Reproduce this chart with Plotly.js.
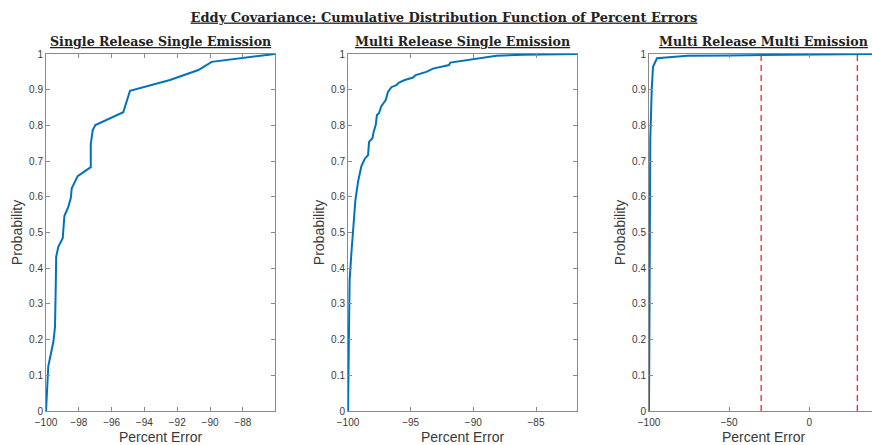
<!DOCTYPE html>
<html>
<head>
<meta charset="utf-8">
<script src="https://cdn.plot.ly/plotly-3.0.1.min.js"></script>
<style>
  html, body { margin: 0; padding: 0; overflow: hidden; background: #fff; }
  #chart { width: 880px; height: 445px; }
</style>
</head>
<body>
<div id="chart"></div>
<script>
// Empirical CDFs of percent error, one per release/emission scenario
const srseError = [-100, -99.86, -99.55, -99.45, -99.40, -99.38, -99.25, -98.98, -98.88, -98.64, -98.49, -98.43, -98.07, -97.27, -97.27, -97.15, -96.99, -95.29, -94.88, -92.44, -90.71, -89.9, -86.04];
const srseProb  = [0, 0.126, 0.194, 0.236, 0.367, 0.432, 0.46, 0.484, 0.546, 0.572, 0.596, 0.624, 0.658, 0.683, 0.748, 0.787, 0.801, 0.837, 0.897, 0.927, 0.955, 0.978, 1.0];

const mrseError = [-100, -99.87, -99.73, -99.55, -99.41, -99.2, -98.93, -98.67, -98.4, -98.32, -98.05, -97.95, -97.79, -97.69, -97.53, -97.34, -96.99, -96.81, -96.54, -96.14, -95.93, -95.47, -94.81, -94.6, -93.75, -93.22, -91.94, -91.83, -90.02, -88.16, -86.03, -81.73];
const mrseProb  = [0, 0.367, 0.442, 0.518, 0.591, 0.642, 0.686, 0.706, 0.717, 0.754, 0.764, 0.782, 0.801, 0.829, 0.834, 0.854, 0.871, 0.894, 0.907, 0.913, 0.92, 0.927, 0.934, 0.941, 0.95, 0.959, 0.969, 0.976, 0.986, 0.995, 0.998, 1.0];

const mrmeError = [-100, -99.8, -99.6, -99.2, -98.3, -97.5, -95, -85, -76, -50, -30, 0, 30, 42.9];
const mrmeProb  = [0, 0.45, 0.68, 0.76, 0.9, 0.964, 0.988, 0.992, 0.995, 0.996, 0.997, 0.998, 0.999, 1.0];

// Acceptance band limits (percent error)
const errorLimits = [-30, 30];

const panelTitles = ['Single Release Single Emission', 'Multi Release Single Emission', 'Multi Release Multi Emission'];
const xTicks = [
  [-100, -98, -96, -94, -92, -90, -88],
  [-100, -95, -90, -85],
  [-100, -50, 0, 50]
];
const yTicks = [0, 0.1, 0.2, 0.3, 0.4, 0.5, 0.6, 0.7, 0.8, 0.9, 1];

const W = 880, H = 445;
const BLUE = '#0072BD';
const AXIS = '#8a8a8a';
const TEXT = '#3a3a3a';
const SANS = 'Liberation Sans, Arial, sans-serif';

const traces = [
  { x: srseError, y: srseProb, xaxis: 'x', yaxis: 'y' },
  { x: mrseError, y: mrseProb, xaxis: 'x2', yaxis: 'y2' },
  { x: mrmeError, y: mrmeProb, xaxis: 'x3', yaxis: 'y3' }
].map(t => Object.assign(t, { type: 'scatter', mode: 'lines', line: { color: BLUE, width: 2 }, hoverinfo: 'x+y' }));

errorLimits.forEach(v => {
  traces.push({
    type: 'scatter', mode: 'lines', x: [v, v], y: [0, 1], xaxis: 'x3', yaxis: 'y3',
    line: { color: '#ff1f1f', width: 1.3, dash: '6px,4px' }
  });
});

const pxX = [[46, 275], [348, 577], [649, 878]];
const yDom = [34 / H, 391 / H];
const xRanges = [[-100, -86.04], [-100, -81.73], [-100, 42.9]];

function xAxis(i) {
  return {
    domain: [pxX[i][0] / W, pxX[i][1] / W],
    range: xRanges[i],
    tickvals: xTicks[i],
    ticks: 'inside', ticklen: 4, tickcolor: AXIS, tickwidth: 1,
    showline: true, linecolor: AXIS, linewidth: 1, mirror: 'ticks',
    showgrid: false, zeroline: false,
    tickfont: { family: SANS, size: 10, color: TEXT },
    ticklabelstandoff: 2,
    anchor: i === 0 ? 'y' : 'y' + (i + 1),
    title: { text: 'Percent Error', font: { family: SANS, size: 14, color: TEXT }, standoff: 8 },
    automargin: false
  };
}
function yAxis(i) {
  return {
    domain: yDom,
    range: [0, 1],
    tickvals: yTicks,
    ticks: 'inside', ticklen: 4, tickcolor: AXIS, tickwidth: 1,
    showline: true, linecolor: AXIS, linewidth: 1, mirror: 'ticks',
    showgrid: false, zeroline: false,
    tickfont: { family: SANS, size: 10, color: TEXT },
    anchor: i === 0 ? 'x' : 'x' + (i + 1),
    title: { text: 'Probability', font: { family: SANS, size: 14, color: TEXT }, standoff: 3 },
    automargin: false
  };
}

const serifFont = size => ({ family: 'DejaVu Serif, serif', size: size, color: '#222', weight: 'bold', lineposition: 'under' });

const layout = {
  width: W, height: H,
  margin: { l: 0, r: 0, t: 0, b: 0 },
  paper_bgcolor: '#fff', plot_bgcolor: '#fff',
  showlegend: false,
  title: {
    text: 'Eddy Covariance: Cumulative Distribution Function of Percent Errors',
    x: 444 / W, xanchor: 'center', xref: 'paper',
    y: 1 - 17 / H, yanchor: 'middle', yref: 'paper',
    font: serifFont(13)
  },
  annotations: panelTitles.map((t, i) => ({
    text: t, showarrow: false,
    xref: 'paper', yref: 'paper',
    x: (pxX[i][0] + pxX[i][1]) / 2 / W, xanchor: 'center',
    y: 1 - 42 / H, yanchor: 'middle',
    font: serifFont(12.6)
  })),
  xaxis: xAxis(0), yaxis: yAxis(0),
  xaxis2: xAxis(1), yaxis2: yAxis(1),
  xaxis3: xAxis(2), yaxis3: yAxis(2)
};

Plotly.newPlot('chart', traces, layout, { displayModeBar: false });
</script>
</body>
</html>
